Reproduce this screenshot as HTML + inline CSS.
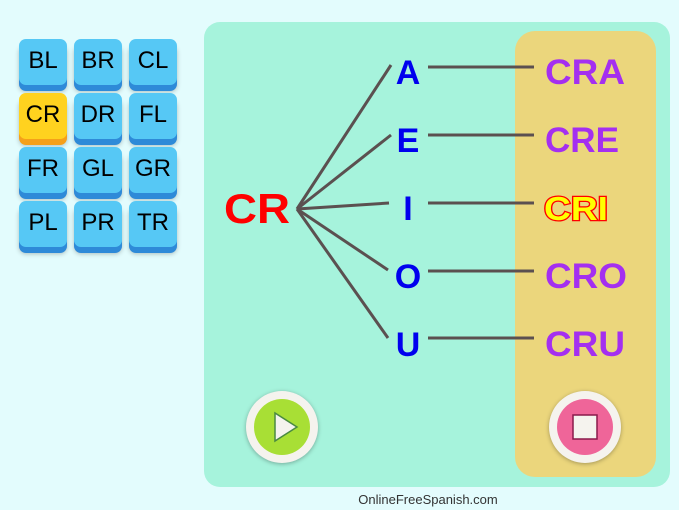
<!DOCTYPE html>
<html><head><style>
html,body{margin:0;padding:0;width:679px;height:510px;overflow:hidden;background:#e3fcfd;font-family:"Liberation Sans",sans-serif;}
.t{position:absolute;width:48px;height:46px;border-radius:7px;background:#56c8f5;box-shadow:0 6px 0 #2e8ad8,0 7px 5px rgba(0,0,0,.25);font-size:24px;color:#000;text-align:center;line-height:44px;}
.y{background:#ffd21f;box-shadow:0 6px 0 #f5a01a,0 7px 5px rgba(0,0,0,.25);}
</style></head><body>
<div class="t" style="left:19px;top:39px">BL</div>
<div class="t" style="left:74px;top:39px">BR</div>
<div class="t" style="left:129px;top:39px">CL</div>
<div class="t y" style="left:19px;top:93px">CR</div>
<div class="t" style="left:74px;top:93px">DR</div>
<div class="t" style="left:129px;top:93px">FL</div>
<div class="t" style="left:19px;top:147px">FR</div>
<div class="t" style="left:74px;top:147px">GL</div>
<div class="t" style="left:129px;top:147px">GR</div>
<div class="t" style="left:19px;top:201px">PL</div>
<div class="t" style="left:74px;top:201px">PR</div>
<div class="t" style="left:129px;top:201px">TR</div>
<svg width="679" height="510" style="position:absolute;left:0;top:0">
<rect x="204" y="22" width="466" height="465" rx="16" fill="#a6f3dc"/>
<rect x="515" y="31" width="141" height="446" rx="20" fill="#ebd67c"/>
<g stroke="#5b5050" stroke-width="3" fill="none">
<line x1="297" y1="209" x2="391" y2="65"/>
<line x1="297" y1="209" x2="391" y2="135"/>
<line x1="297" y1="209" x2="389" y2="203"/>
<line x1="297" y1="209" x2="388" y2="270"/>
<line x1="297" y1="209" x2="388" y2="338"/>
<line x1="428" y1="67" x2="534" y2="67"/>
<line x1="428" y1="135" x2="534" y2="135"/>
<line x1="428" y1="203" x2="534" y2="203"/>
<line x1="428" y1="271" x2="534" y2="271"/>
<line x1="428" y1="338" x2="534" y2="338"/>
</g>
<text x="224" y="223" font-size="42" font-weight="bold" fill="#ff0000" font-family="Liberation Sans" textLength="66" lengthAdjust="spacingAndGlyphs">CR</text>
<g font-size="34" font-weight="bold" fill="#0000ee" text-anchor="middle" font-family="Liberation Sans">
<text x="408" y="84">A</text><text x="408" y="152">E</text><text x="408" y="220">I</text><text x="408" y="288">O</text><text x="408" y="356">U</text>
</g>
<g font-size="35" font-weight="bold" fill="#a42ff0" font-family="Liberation Sans">
<text x="545" y="84" textLength="80" lengthAdjust="spacingAndGlyphs">CRA</text>
<text x="545" y="152" textLength="74" lengthAdjust="spacingAndGlyphs">CRE</text>
<text x="545" y="288" textLength="82" lengthAdjust="spacingAndGlyphs">CRO</text>
<text x="545" y="356" textLength="80" lengthAdjust="spacingAndGlyphs">CRU</text>
</g>
<text x="544" y="220" font-size="33" font-weight="bold" fill="#ffff00" stroke="#ff0000" stroke-width="2.5" paint-order="stroke" font-family="Liberation Sans" textLength="64" lengthAdjust="spacingAndGlyphs">CRI</text>
<circle cx="282" cy="427" r="36" fill="#f5f3ee" filter="drop-shadow(0 1px 2px rgba(0,0,0,.3))"/>
<circle cx="282" cy="427" r="28" fill="#a8df35"/>
<polygon points="275,413 275,441 297,427" fill="#f5f3ee" stroke="#4a8a40" stroke-width="1.5"/>
<circle cx="585" cy="427" r="36" fill="#f5f3ee" filter="drop-shadow(0 1px 2px rgba(0,0,0,.3))"/>
<circle cx="585" cy="427" r="28" fill="#ef6599"/>
<rect x="573" y="415" width="24" height="24" fill="#f5f3ee" stroke="#8a1a4a" stroke-width="1.5"/>
<text x="428" y="504" font-size="13" fill="#333" text-anchor="middle" font-family="Liberation Sans">OnlineFreeSpanish.com</text>
</svg>
</body></html>
